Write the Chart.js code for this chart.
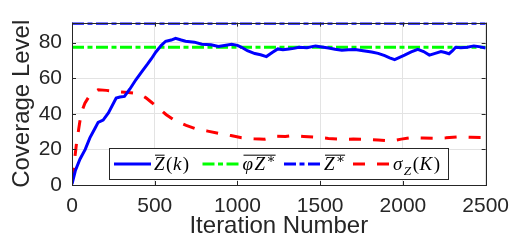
<!DOCTYPE html>
<html>
<head>
<meta charset="utf-8">
<script src="https://cdn.jsdelivr.net/npm/chart.js@4"></script>
<style>
    html, body { margin: 0; padding: 0; background: #fff; }
</style>
</head>
<body>
<canvas id="coverageChart" width="518" height="243"></canvas>
<script>
const zIter = [0, 20, 48, 80, 108, 140, 158, 188, 220, 267, 290, 317, 350, 387, 420, 456, 480, 507, 540, 566,
    600, 626, 660, 686, 740, 785, 840, 885, 930, 965, 1000, 1025, 1060, 1105, 1140, 1175, 1210, 1244, 1275, 1312,
    1340, 1372, 1420, 1472, 1510, 1551, 1590, 1631, 1670, 1711, 1760, 1811, 1850, 1890, 1920, 1950, 1980, 2010,
    2050, 2090, 2125, 2160, 2195, 2230, 2255, 2279, 2300, 2319, 2350, 2389, 2429, 2460, 2500];
const zValues = [0.5, 8, 14.5, 20, 26.5, 32, 35.2, 36.5, 40.5, 48.9, 49.5, 49.8, 54, 59.3, 63.5, 67.9, 71, 74.8, 78.5, 80.8,
    81.5, 82.5, 81.5, 80.8, 80.3, 79.1, 78.8, 77.9, 78.6, 79.1, 78.5, 77.4, 75.5, 73.9, 73.2, 72.2, 74.5, 76.5, 76.0, 76.5,
    76.8, 77.4, 77.2, 78.2, 77.6, 77, 76.3, 75.7, 76.0, 76.2, 75.5, 74.8, 74, 72.7, 71.5, 70.5, 71.8, 73,
    74.8, 76.2, 75, 73, 74, 75, 74.5, 73.8, 75.5, 77.4, 77.2, 77.4, 78.2, 77.8, 77];

// standard deviation sigma_Z(K)
const sigmaIter = [0, 8, 18, 28, 38, 48, 58, 78, 98, 128, 158, 208, 250, 287, 340, 387, 420, 447, 480, 517,
    570, 626, 690, 746, 820, 885, 960, 1025, 1100, 1164, 1234, 1290, 1331, 1400, 1472, 1550, 1631, 1700, 1771,
    1850, 1931, 1990, 2050, 2120, 2189, 2260, 2329, 2410, 2500];
const sigmaValues = [3, 8, 16, 24, 30, 36, 41, 46, 49, 52, 53.5, 53.2, 52.8, 52.4, 52, 51.5, 50.5, 49, 46.5, 43.8,
    39.5, 36, 33.5, 31.7, 30.3, 29.1, 27.8, 26.6, 26, 25.7, 27.4, 27.3, 27.8, 27.3, 26.9, 26.2, 25.7, 25.8, 25.7,
    25.3, 24.8, 25.8, 26.6, 26.4, 26.2, 26.5, 27, 26.8, 26.6];

// constant reference levels
const zStar = 91;
const phiZStar = 77.4;

const xTicks = [0, 500, 1000, 1500, 2000, 2500];
const yTicks = [0, 20, 40, 60, 80];
const xRange = [0, 2500];
const yRange = [0, 91.3];

const axisColor = '#262626';
const dashDot = [12, 3.5, 5, 3.5];
const dashed = [12, 12];

const toPoints = (xs, ys) => xs.map((x, i) => ({ x, y: ys[i] }));
const flat = (v) => [{ x: xRange[0], y: v }, { x: xRange[1], y: v }];

// legend entries: pieces of text, i = italic, o = overline, sub/sup = small shifted
const legendItems = [
    { color: '#0000ff', dash: [], parts: [{ t: 'Z', i: 1, o: 1 }, { t: '(' }, { t: 'k', i: 1 }, { t: ')' }] },
    { color: '#00ff00', dash: dashDot, parts: [{ t: 'φ', i: 1, o: 1 }, { t: 'Z', i: 1, o: 1 }, { t: '∗', sup: 1, o: 1 }] },
    { color: '#0000ff', dash: dashDot, parts: [{ t: 'Z', i: 1, o: 1 }, { t: '∗', sup: 1, o: 1 }] },
    { color: '#ff0000', dash: dashed, parts: [{ t: 'σ', i: 1 }, { t: 'Z', i: 1, sub: 1 }, { t: '(' }, { t: 'K', i: 1 }, { t: ')' }] }
];

function drawRich(ctx, x, y, parts, size) {
    let cx = x;
    let overStart = null, overEnd = null;
    parts.forEach((p) => {
        const s = (p.sub || p.sup) ? size * 0.7 : size;
        ctx.font = `${p.i ? 'italic ' : ''}${s}px "Liberation Serif", "DejaVu Serif", serif`;
        const dy = p.sub ? size * 0.25 : (p.sup ? -size * 0.38 : 0);
        ctx.fillText(p.t, cx, y + dy);
        const w = ctx.measureText(p.t).width;
        if (p.o) {
            if (overStart === null) overStart = cx;
            overEnd = cx + w;
        }
        cx += w + (p.i ? 1.5 : 0.5);
    });
    if (overStart !== null) {
        ctx.beginPath();
        ctx.lineWidth = 1;
        ctx.strokeStyle = '#000';
        ctx.moveTo(overStart + 1, y - size * 0.78);
        ctx.lineTo(overEnd, y - size * 0.78);
        ctx.stroke();
    }
}

const boxAndLegend = {
    id: 'boxAndLegend',
    afterDatasetsDraw(chart) {
        const { ctx, chartArea: a, scales } = chart;
        ctx.save();
        // inward tick marks, MATLAB style
        ctx.strokeStyle = axisColor;
        ctx.lineWidth = 1;
        ctx.beginPath();
        xTicks.forEach((v) => {
            const px = Math.round(scales.x.getPixelForValue(v)) + 0.5;
            ctx.moveTo(px, a.bottom); ctx.lineTo(px, a.bottom - 4);
            ctx.moveTo(px, a.top); ctx.lineTo(px, a.top + 4);
        });
        yTicks.forEach((v) => {
            const py = Math.round(scales.y.getPixelForValue(v)) + 0.5;
            ctx.moveTo(a.left, py); ctx.lineTo(a.left + 4, py);
            ctx.moveTo(a.right, py); ctx.lineTo(a.right - 4, py);
        });
        ctx.stroke();
        ctx.strokeRect(Math.round(a.left) + 0.5, Math.round(a.top) + 0.5,
            Math.round(a.right - a.left), Math.round(a.bottom - a.top));

        // legend box
        const lx = 109.5, ly = 148.5, lw = 339, lh = 31;
        ctx.fillStyle = '#fff';
        ctx.fillRect(lx, ly, lw, lh);
        ctx.strokeStyle = axisColor;
        ctx.strokeRect(lx, ly, lw, lh);

        const starts = [114, 202.5, 284, 353];
        const lineY = 164;
        legendItems.forEach((item, idx) => {
            const x0 = starts[idx];
            ctx.beginPath();
            ctx.setLineDash(item.dash);
            ctx.lineWidth = 3;
            ctx.strokeStyle = item.color;
            ctx.moveTo(x0, lineY);
            ctx.lineTo(x0 + 37, lineY);
            ctx.stroke();
            ctx.setLineDash([]);
            ctx.fillStyle = '#000';
            ctx.textBaseline = 'alphabetic';
            drawRich(ctx, x0 + 40, 170, item.parts, 19);
        });
        ctx.restore();
    }
};

const ctx = document.getElementById('coverageChart').getContext('2d');
new Chart(ctx, {
    type: 'line',
    data: {
        datasets: [
            { data: toPoints(zIter, zValues), borderColor: '#0000ff', borderWidth: 3, pointRadius: 0 },
            { data: flat(phiZStar), borderColor: '#00ff00', borderWidth: 3, borderDash: dashDot, pointRadius: 0 },
            { data: flat(zStar), borderColor: '#0000ff', borderWidth: 3, borderDash: dashDot, pointRadius: 0 },
            { data: toPoints(sigmaIter, sigmaValues), borderColor: '#ff0000', borderWidth: 3, borderDash: dashed, pointRadius: 0 }
        ]
    },
    options: {
        responsive: false,
        animation: false,
        devicePixelRatio: 1,
        layout: { padding: { top: 8, right: 28, left: 0, bottom: 0 } },
        plugins: { legend: { display: false }, tooltip: { enabled: false } },
        scales: {
            x: {
                type: 'linear',
                min: xRange[0],
                max: xRange[1],
                afterBuildTicks: (axis) => { axis.ticks = xTicks.map((v) => ({ value: v })); },
                afterFit: (axis) => { axis.height = 58; },
                grid: { color: '#e3e3e3', drawTicks: false },
                border: { display: false },
                ticks: {
                    padding: 9,
                    color: axisColor,
                    callback: (value) => String(value),
                    font: { family: '"Liberation Sans", Arial, sans-serif', size: 21 }
                },
                title: {
                    display: true,
                    text: 'Iteration Number',
                    color: axisColor,
                    padding: { top: 0, bottom: 2 },
                    font: { family: '"Liberation Sans", Arial, sans-serif', size: 24, lineHeight: 1.2 }
                }
            },
            y: {
                min: yRange[0],
                max: yRange[1],
                afterBuildTicks: (axis) => { axis.ticks = yTicks.map((v) => ({ value: v })); },
                afterFit: (axis) => { axis.width = 72; },
                grid: { color: '#e3e3e3', drawTicks: false },
                border: { display: false },
                ticks: {
                    padding: 10,
                    color: axisColor,
                    callback: (value) => String(value),
                    font: { family: '"Liberation Sans", Arial, sans-serif', size: 21 }
                },
                title: {
                    display: true,
                    text: 'Coverage Level',
                    color: axisColor,
                    padding: { top: 8, bottom: 0 },
                    font: { family: '"Liberation Sans", Arial, sans-serif', size: 24, lineHeight: 1.2 }
                }
            }
        }
    },
    plugins: [boxAndLegend]
});
</script>
</body>
</html>
